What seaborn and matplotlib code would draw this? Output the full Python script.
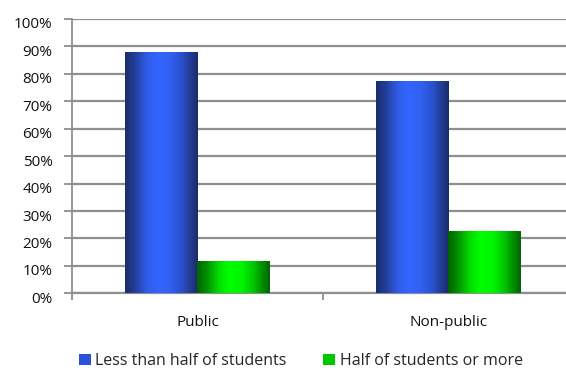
import numpy as np
import pandas as pd
import matplotlib
matplotlib.use("Agg")
import matplotlib.pyplot as plt
import seaborn as sns
from matplotlib.colors import LinearSegmentedColormap
from matplotlib.patches import Patch
from matplotlib.ticker import FixedLocator, PercentFormatter
from matplotlib.transforms import ScaledTranslation

# ---- data ----
categories = ["Public", "Non-public"]
series_names = ["Less than half of students", "Half of students or more"]
less_than_half = [88.1, 77.3]
half_or_more = [11.9, 22.7]
y_ticks = [0, 10, 20, 30, 40, 50, 60, 70, 80, 90, 100]

df = pd.DataFrame({
    "category": categories * 2,
    "series": [series_names[0]] * 2 + [series_names[1]] * 2,
    "value": less_than_half + half_or_more,
})

sns.set_theme(style="white")
plt.rcParams["font.family"] = ["Open Sans", "DejaVu Sans"]

fig = plt.figure(figsize=(5.66, 3.70), dpi=100)
ax = fig.add_axes([72 / 566, (370 - 293.3) / 370, 502 / 566, 274.3 / 370])

blue_mid = "#3366ff"
green_mid = "#00ff00"
sns.barplot(data=df, x="category", y="value", hue="series",
            order=categories, hue_order=series_names,
            palette=[blue_mid, green_mid], width=0.574, gap=0,
            saturation=1, legend=False, ax=ax, zorder=3)

# gradient shading on bars
blue_cmap = LinearSegmentedColormap.from_list("b", [
    (0.0, "#1a2d6c"), (0.12, "#213d92"), (0.3, "#2f5ce8"), (0.45, "#3366ff"),
    (0.62, "#3160f2"), (0.78, "#2a50cc"), (0.9, "#213c92"), (1.0, "#1a2c68")])
green_cmap = LinearSegmentedColormap.from_list("g", [
    (0.0, "#006400"), (0.12, "#008a00"), (0.3, "#00dd00"), (0.45, "#00ff00"),
    (0.62, "#00f400"), (0.78, "#00c400"), (0.9, "#008c00"), (1.0, "#006400")])
grad = np.linspace(0, 1, 256).reshape(1, -1)
for patch in list(ax.patches):
    x0 = patch.get_x()
    w = patch.get_width()
    h = patch.get_height()
    fc = patch.get_facecolor()
    cmap = blue_cmap if fc[2] > 0.5 else green_cmap
    im = ax.imshow(grad, cmap=cmap, aspect="auto", extent=[x0, x0 + w, 0, h],
                   zorder=3, interpolation="bilinear")
    im.set_clip_path(patch)
    patch.set_facecolor("none")
    patch.set_edgecolor("none")

ax.set_xlim(-0.5, 1.5)
ax.set_ylim(0, 100)

grid_c = "#8f8f8f"
ax.yaxis.set_major_locator(FixedLocator(y_ticks))
ax.yaxis.set_major_formatter(PercentFormatter(decimals=0))
ax.grid(axis="y", color=grid_c, linewidth=1.6, zorder=0)
ax.set_axisbelow(True)

ax.set_xticks([0, 1])
ax.set_xticklabels(categories)
ax.xaxis.set_minor_locator(FixedLocator([-0.5, 0.5, 1.5]))
ax.tick_params(axis="x", which="major", length=0, pad=15.5, labelsize=11, labelcolor="#111111")
ax.tick_params(axis="x", which="minor", length=5, width=1.3, color=grid_c, direction="out", bottom=True)
ax.tick_params(axis="y", which="major", length=6, width=1.3, color=grid_c, direction="out",
               left=True, labelsize=11, labelcolor="#111111", pad=8)

shift = ScaledTranslation(0, -4 / 100, fig.dpi_scale_trans)
for lab in ax.get_yticklabels():
    lab.set_transform(lab.get_transform() + shift)

for s in ["top", "right"]:
    ax.spines[s].set_visible(False)
ax.spines["left"].set_color(grid_c)
ax.spines["left"].set_linewidth(1.3)
ax.spines["bottom"].set_color(grid_c)
ax.spines["bottom"].set_linewidth(1.6)
ax.set_xlabel("")
ax.set_ylabel("")

handles = [Patch(facecolor="#2b52d8", edgecolor="none"),
           Patch(facecolor="#00c800", edgecolor="none")]
fig.legend(handles, series_names, loc="center left", ncol=2,
           bbox_to_anchor=(79 / 566, 1 - 361 / 370), frameon=False,
           fontsize=11.5, handlelength=0.72, handleheight=0.72,
           handletextpad=0.3, columnspacing=2.3, borderaxespad=0, borderpad=0)

fig.savefig("out.png", dpi=100)
